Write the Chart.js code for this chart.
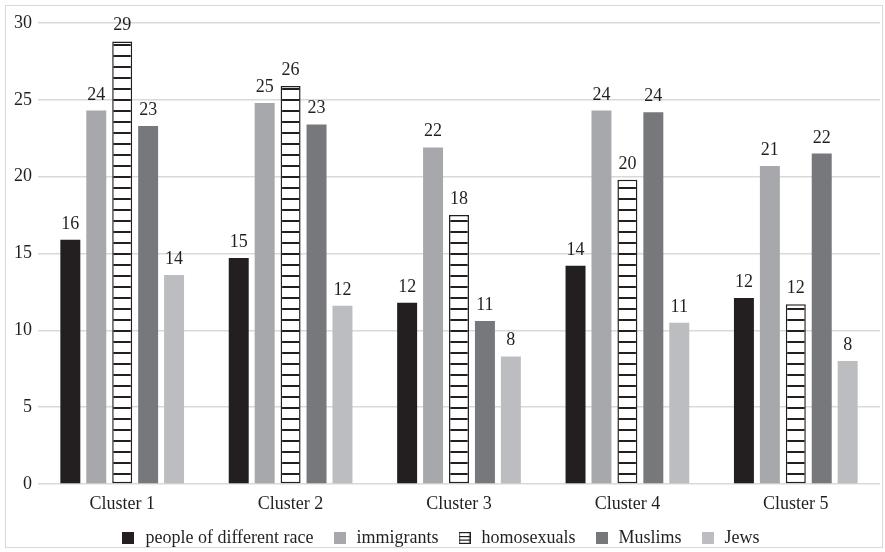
<!DOCTYPE html>
<html>
<head>
<meta charset="utf-8">
<script src="https://cdn.jsdelivr.net/npm/chart.js@4.4.1/dist/chart.umd.min.js"></script>
<style>
  html, body { margin: 0; padding: 0; background: #fff; }
  #wrap { width: 885px; height: 552px; position: relative; }
</style>
</head>
<body>
<div id="wrap"><canvas id="c" width="885" height="552"></canvas></div>
<script>
// Categories and series
const clusters = ['Cluster 1', 'Cluster 2', 'Cluster 3', 'Cluster 4', 'Cluster 5'];
const differentRace = [15.9, 14.7, 11.8, 14.2, 12.1];
const immigrants    = [24.3, 24.8, 21.9, 24.3, 20.7];
const homosexuals   = [28.8, 25.9, 17.5, 19.8, 11.7];
const muslims       = [23.3, 23.4, 10.6, 24.2, 21.5];
const jews          = [13.6, 11.6, 8.3, 10.5, 8.0];
const yTickValues   = [0, 5, 10, 15, 20, 25, 30];

const FONT = '"Liberation Serif", "Times New Roman", Times, serif';
const INK = '#231f20';

// Horizontal-stripe fill for the striped series
function stripePattern(period, lineW) {
  const c = document.createElement('canvas');
  c.width = 8; c.height = period;
  const g = c.getContext('2d');
  g.fillStyle = '#fff'; g.fillRect(0, 0, 8, period);
  g.fillStyle = INK; g.fillRect(0, 0, 8, lineW);
  return g.createPattern(c, 'repeat');
}

// Small square swatches for the legend
function swatch(color, striped) {
  const c = document.createElement('canvas');
  c.width = 12; c.height = 12;
  const g = c.getContext('2d');
  if (striped) {
    g.fillStyle = '#fff'; g.fillRect(0, 0, 12, 12);
    g.strokeStyle = INK; g.lineWidth = 1.2;
    g.strokeRect(0.6, 0.6, 10.8, 10.8);
    g.fillStyle = INK;
    g.fillRect(0, 4, 12, 1.2);
    g.fillRect(0, 7.5, 12, 1.2);
  } else {
    g.fillStyle = color; g.fillRect(0, 0, 12, 12);
  }
  return c;
}

const series = [
  { label: 'people of different race', data: differentRace, color: '#231f20' },
  { label: 'immigrants', data: immigrants, color: '#a7a8ab' },
  { label: 'homosexuals', data: homosexuals, color: null },
  { label: 'Muslims', data: muslims, color: '#77787b' },
  { label: 'Jews', data: jews, color: '#bcbdc0' }
];

function buildDatasets() {
  return series.map(s => {
    const striped = s.color === null;
    return {
      label: s.label,
      data: s.data,
      backgroundColor: striped ? stripePattern(11, 2) : s.color,
      borderColor: striped ? INK : s.color,
      borderWidth: striped ? 1.5 : 0,
      borderSkipped: false,
      pointStyle: swatch(s.color, striped),
      categoryPercentage: 0.77,
      barPercentage: 0.77
    };
  });
}

// Outer frame of the chart
const framePlugin = {
  id: 'frame',
  beforeDraw(chart) {
    const ctx = chart.ctx;
    ctx.save();
    ctx.fillStyle = '#fff';
    ctx.fillRect(0, 0, chart.width, chart.height);
    ctx.strokeStyle = '#d9d9d9';
    ctx.lineWidth = 1;
    ctx.strokeRect(5.5, 5.5, 877, 542);
    ctx.restore();
  }
};

// Rounded value written above every bar
const valueLabels = {
  id: 'valueLabels',
  afterDatasetsDraw(chart) {
    const ctx = chart.ctx;
    ctx.save();
    ctx.font = '18px ' + FONT;
    ctx.fillStyle = INK;
    ctx.textAlign = 'center';
    ctx.textBaseline = 'alphabetic';
    chart.data.datasets.forEach((ds, i) => {
      chart.getDatasetMeta(i).data.forEach((bar, j) => {
        ctx.fillText(String(Math.round(ds.data[j])), bar.x, bar.y - 11);
      });
    });
    ctx.restore();
  }
};

function draw() {
  Chart.defaults.font.family = FONT;
  new Chart(document.getElementById('c'), {
    type: 'bar',
    data: { labels: clusters, datasets: buildDatasets() },
    options: {
      responsive: false,
      devicePixelRatio: 1,
      animation: false,
      layout: { padding: { top: 23, right: 5, left: 0, bottom: -5 } },
      plugins: {
        tooltip: { enabled: false },
        legend: {
          position: 'bottom',
          labels: {
            usePointStyle: true,
            boxWidth: 16,
            boxHeight: 12,
            padding: 18,
            color: INK,
            font: { family: FONT, size: 18 }
          }
        }
      },
      scales: {
        x: {
          grid: { display: false, drawTicks: false },
          border: { display: false },
          afterFit(scale) { scale.height = 27; },
          ticks: { color: INK, font: { family: FONT, size: 18 }, padding: 9 }
        },
        y: {
          min: 0,
          max: 30,
          afterBuildTicks(scale) { scale.ticks = yTickValues.map(v => ({ value: v })); },
          afterFit(scale) { scale.width = 38; },
          grid: { color: '#d9d9d9', lineWidth: 1.5, drawTicks: false },
          border: { display: false },
          ticks: { color: INK, font: { family: FONT, size: 18 }, padding: 6 }
        }
      }
    },
    plugins: [framePlugin, valueLabels]
  });
}

if (document.fonts && document.fonts.load) {
  document.fonts.load('18px "Liberation Serif"').then(draw, draw);
} else {
  draw();
}
</script>
</body>
</html>
